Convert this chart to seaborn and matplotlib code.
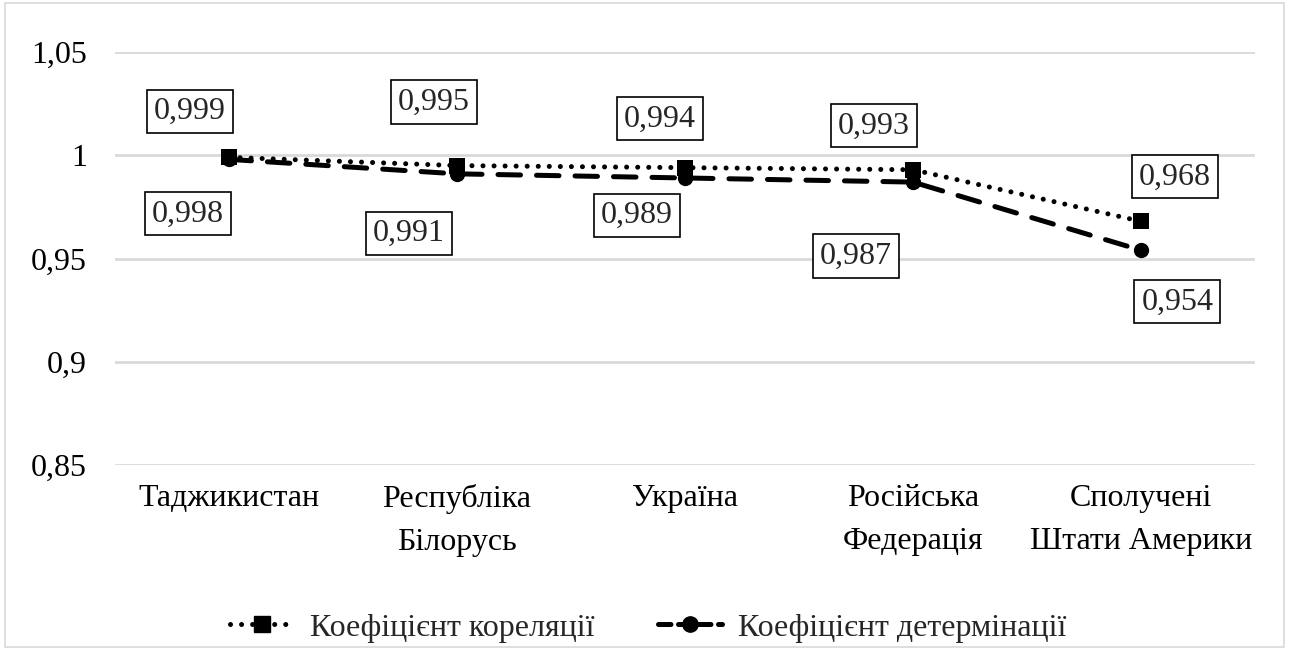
import matplotlib
matplotlib.use('Agg')
import matplotlib.pyplot as plt
import seaborn as sns
import pandas as pd
from matplotlib.patches import Rectangle
from matplotlib.lines import Line2D

# Data
countries = ['Таджикистан', 'Республіка\nБілорусь', 'Україна',
             'Російська\nФедерація', 'Сполучені\nШтати Америки']
correlation = [0.999, 0.995, 0.994, 0.993, 0.968]
determination = [0.998, 0.991, 0.989, 0.987, 0.954]
series_names = ['Коефіцієнт кореляції', 'Коефіцієнт детермінації']

# label offsets (x in category units, y in data units)
corr_off = [(-0.17, 0.0224), (-0.10, 0.0308), (-0.11, 0.0236), (-0.17, 0.0212), (0.15, 0.0215)]
det_off = [(-0.18, -0.0264), (-0.21, -0.0287), (-0.21, -0.018), (-0.25, -0.0358), (0.16, -0.025)]

df = pd.DataFrame({'x': list(range(len(countries))) * 2,
                   'value': correlation + determination,
                   'series': [series_names[0]] * 5 + [series_names[1]] * 5})

sns.set_style('white')
plt.rcParams['font.family'] = ['Liberation Serif', 'DejaVu Serif']
FS = 23

fig = plt.figure(figsize=(12.89, 6.5), dpi=100)
ax = fig.add_axes([0.0892, 0.2846, 0.8844, 0.6354])

# outer chart border
fig.patches.append(Rectangle((0.004, 0.004), 0.992, 0.992, transform=fig.transFigure,
                             fill=False, edgecolor='#d9d9d9', linewidth=1.2))

DOT = (0.01, 2.2)
DASH = (4.5, 3.2)
sns.lineplot(data=df, x='x', y='value', hue='series', style='series',
             palette=['black', 'black'], markers=['s', 'o'],
             dashes=[DOT, DASH], linewidth=3.6, markersize=11,
             markeredgewidth=0, ax=ax, legend=False)
for ln in ax.get_lines():
    ln.set_dash_capstyle('round')

box = dict(boxstyle='square,pad=0.22', facecolor='white', edgecolor='black', linewidth=1.2)
for i, (v, off) in enumerate(zip(correlation, corr_off)):
    ax.text(i + off[0], v + off[1], f'{v:.3f}'.replace('.', ','), ha='center', va='center',
            fontsize=FS, bbox=box)
for i, (v, off) in enumerate(zip(determination, det_off)):
    ax.text(i + off[0], v + off[1], f'{v:.3f}'.replace('.', ','), ha='center', va='center',
            fontsize=FS, bbox=box)

ax.set_xlim(-0.5, 4.5)
ax.set_ylim(0.85, 1.05)
ax.set_yticks([0.85, 0.9, 0.95, 1.0, 1.05])
ax.set_yticklabels(['0,85', '0,9', '0,95', '1', '1,05'])
ax.set_xticks(range(len(countries)))
ax.set_xticklabels(countries, linespacing=1.6)
ax.tick_params(axis='both', length=0, labelsize=FS, colors='black')
ax.tick_params(axis='x', pad=14)
ax.tick_params(axis='y', pad=20)
ax.yaxis.grid(True, color='#d9d9d9', linewidth=2)
ax.set_axisbelow(True)
for s in ax.spines.values():
    s.set_visible(False)
ax.set_xlabel('')
ax.set_ylabel('')

# legend
handles = [Line2D([], [], color='black', linestyle=(0, DOT), linewidth=3.6,
                  marker='s', markersize=11, dash_capstyle='round'),
           Line2D([], [], color='black', linestyle=(0, (2.5, 1.5)), linewidth=3.6,
                  marker='o', markersize=11, dash_capstyle='round')]
fig.legend(handles, series_names, loc='center', bbox_to_anchor=(0.503, 0.034),
           ncol=2, frameon=False, fontsize=FS, handlelength=2.0, columnspacing=2.0,
           handletextpad=0.5)

fig.savefig('out.png', dpi=100)
